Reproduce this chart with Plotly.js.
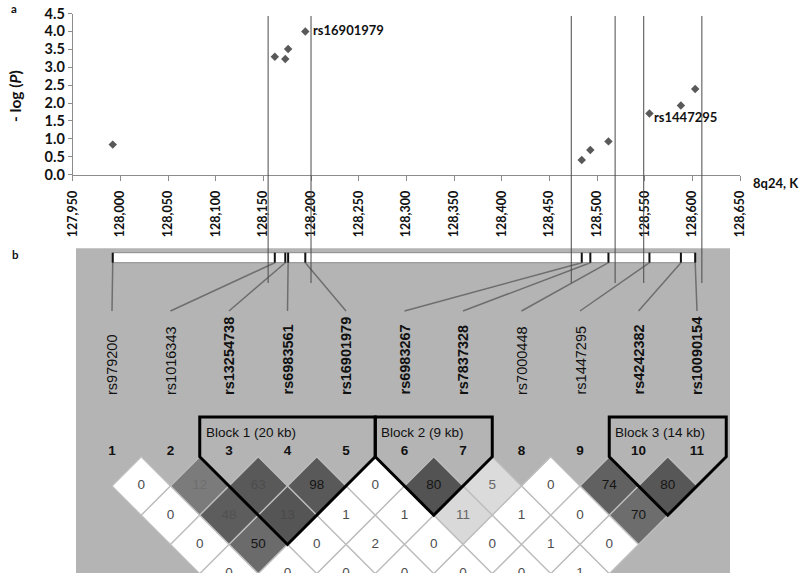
<!DOCTYPE html>
<html>
<head>
<meta charset="utf-8">
<script src="https://cdn.plot.ly/plotly-3.0.1.min.js"></script>
<style>
  body { margin: 0; background: #fff; }
  #chart { width: 800px; height: 580px; }
</style>
</head>
<body>
<div id="chart"></div>
<script>
/////
///// Data
/////

let snpNames = ['rs979200', 'rs1016343', 'rs13254738', 'rs6983561', 'rs16901979', 'rs6983267',
                'rs7837328', 'rs7000448', 'rs1447295', 'rs4242382', 'rs10090154'];
// position on 8q24, kb
let snpKb = [127992, 128162, 128173, 128176, 128194, 128484, 128493, 128512, 128555, 128588, 128603];
let snpLogP = [0.84, 3.29, 3.23, 3.51, 4.00, 0.41, 0.69, 0.93, 1.71, 1.93, 2.39];
let taggedSnps = ['rs13254738', 'rs6983561', 'rs16901979', 'rs6983267', 'rs7837328', 'rs4242382', 'rs10090154'];
let calloutSnps = ['rs16901979', 'rs1447295'];

// vertical marker lines, kb
let boundaryKb = [128155, 128200, 128473, 128519, 128549, 128610];

// LD values, row 1 = neighbouring SNPs, row 2 = one apart, ...
let ldValues = [
    [0, 12, 63, 98, 0, 80, 5, 0, 74, 80],
    [0, 48, 13, 1, 1, 11, 1, 0, 70],
    [0, 50, 0, 2, 0, 0, 1, 0],
    [0, 0, 0, 0, 0, 0, 1]
];
// shading strength of each LD cell (0 = white, 1 = darkest)
let ldShade = [
    [0, 0.66, 0.83, 0.83, 0, 0.86, 0.18, 0, 0.79, 0.84],
    [0, 0.81, 0.85, 0, 0, 0.19, 0, 0, 0.73],
    [0, 0.74, 0, 0, 0, 0, 0, 0],
    [0, 0, 0, 0, 0, 0, 0]
];

let blockFirst = [3, 6, 10];
let blockLast = [5, 7, 11];
let blockLabels = ['Block 1 (20 kb)', 'Block 2 (9 kb)', 'Block 3 (14 kb)'];

/////
///// Geometry helpers (pixel layout of the page)
/////

const W = 800, H = 580;
const xDom = [72.7, 740];          // top panel x extent, px
const yDom = [13.5, 174.7];        // top panel y extent, px
const kbRange = [127950, 128650];

const idx1Px = 112, idxStep = 58.5; // column 1 and spacing in panel b
const row0Px = 456.75, rowStep = 29.25;
const panelBottom = 573;

function row(px) { return (px - row0Px) / rowStep; }
function idxPx(i) { return idx1Px + (i - 1) * idxStep; }
function kbOfPx(px) { return kbRange[0] + (px - xDom[0]) / (xDom[1] - xDom[0]) * (kbRange[1] - kbRange[0]); }

// cells whose numbers nearly vanish into the shading
const faintCells = ['2-3', '3-4', '2-4', '3-5'];

function shadeColor(s) {
    let g = Math.round(255 - 200 * s);
    return `rgb(${g},${g},${g})`;
}

const bold = 'bold';
const lato = 'Lato, "Open Sans", sans-serif';
const arial = '"Liberation Sans", Arial, sans-serif';

/////
///// Panel a
/////

let traces = [];

traces.push({
    x: snpKb,
    y: snpLogP,
    mode: 'markers',
    type: 'scatter',
    marker: { symbol: 'diamond', size: 6.5, color: '#595959' },
    hoverinfo: 'none',
    xaxis: 'x',
    yaxis: 'y'
});

/////
///// Panel b
/////

let shapes = [];
let annotations = [];

// grey backdrop
shapes.push({
    type: 'rect', xref: 'paper', yref: 'paper', layer: 'below',
    x0: 76 / W, x1: 730 / W, y0: 1 - panelBottom / H, y1: 1 - 248.3 / H,
    fillcolor: '#b4b4b4', line: { width: 0 }
});

// chromosome bar with SNP ticks
let barTop = row(252.7), barBot = row(262.7);
shapes.push({
    type: 'rect', xref: 'x', yref: 'y2',
    x0: snpKb[0], x1: snpKb[snpKb.length - 1], y0: barTop, y1: barBot,
    fillcolor: '#ffffff', line: { color: '#8a8a8a', width: 1 }
});
snpKb.forEach(kb => {
    shapes.push({
        type: 'line', xref: 'x', yref: 'y2',
        x0: kb, x1: kb, y0: barTop, y1: barBot,
        line: { color: '#111', width: 2 }
    });
});

// lines from the bar to the evenly spaced SNP names
let connX = [], connY = [];
snpKb.forEach((kb, k) => {
    connX.push(kb, kbOfPx(idxPx(k + 1)), null);
    connY.push(barBot, row(311), null);
});
traces.push({
    x: connX, y: connY, mode: 'lines', type: 'scatter',
    line: { color: '#6e6e6e', width: 1.5 },
    hoverinfo: 'none', xaxis: 'x', yaxis: 'y2'
});

// vertical marker lines through both panels
boundaryKb.forEach(kb => {
    shapes.push({
        type: 'line', xref: 'x', yref: 'y2',
        x0: kb, x1: kb, y0: row(16), y1: row(283),
        line: { color: '#4a4a4a', width: 1 }
    });
});

// SNP names
snpNames.forEach((name, k) => {
    annotations.push({
        xref: 'x2', yref: 'y2', x: k + 1, y: row(397),
        text: name, showarrow: false, textangle: -90,
        xanchor: 'center', yanchor: 'bottom',
        font: { family: arial, size: 14.5, color: '#111',
                weight: taggedSnps.includes(name) ? bold : 'normal' }
    });
});

// LD cells (drawn under the text trace)
let cellX = [], cellY = [], cellText = [], cellTextColor = [];
ldValues.forEach((vals, r) => {
    let d = r + 1;
    vals.forEach((v, k) => {
        let i = k + 1, j = k + 1 + d;
        let cx = (i + j) / 2, cy = d;
        let s = ldShade[r][k];
        shapes.push({
            type: 'path', xref: 'x2', yref: 'y2', layer: 'below',
            path: `M ${cx},${cy - 1} L ${cx + 0.5},${cy} L ${cx},${cy + 1} L ${cx - 0.5},${cy} Z`,
            fillcolor: shadeColor(s), line: { color: '#bdbdbd', width: 1.3 }
        });
        cellX.push(cx);
        cellY.push(cy);
        cellText.push(String(v));
        let tc;
        if (faintCells.includes(`${i}-${j}`)) tc = shadeColor(s + 0.06);
        else if (s > 0.5) tc = '#151515';
        else if (s > 0) tc = '#666';
        else tc = '#4d4d4d';
        cellTextColor.push(tc);
    });
});
traces.push({
    x: cellX, y: cellY, text: cellText, mode: 'text', type: 'scatter',
    textposition: 'middle center',
    textfont: { family: arial, size: 13.5, color: cellTextColor },
    hoverinfo: 'none', xaxis: 'x2', yaxis: 'y2', cliponaxis: true
});

// haplotype block outlines and labels
let blockTop = row(417);
blockFirst.forEach((s, b) => {
    let e = blockLast[b];
    shapes.push({
        type: 'path', xref: 'x2', yref: 'y2',
        path: `M ${s - 0.5},${blockTop} L ${s - 0.5},0 L ${(s + e) / 2},${e - s + 1} ` +
              `L ${e + 0.5},0 L ${e + 0.5},${blockTop} Z`,
        fillcolor: 'rgba(0,0,0,0)', line: { color: '#000', width: 3 }
    });
    annotations.push({
        xref: 'x2', yref: 'y2', x: s - 0.5, y: row(432), xshift: 4,
        text: blockLabels[b], showarrow: false, xanchor: 'left', yanchor: 'middle',
        font: { family: arial, size: 13.5, color: '#111' }
    });
});

// column numbers
traces.push({
    x: snpNames.map((_, k) => k + 1),
    y: snpNames.map(() => row(452)),
    text: snpNames.map((_, k) => String(k + 1)),
    mode: 'text', type: 'scatter', textposition: 'middle center',
    textfont: { family: arial, size: 13.5, color: '#111', weight: bold },
    hoverinfo: 'none', xaxis: 'x2', yaxis: 'y2'
});

/////
///// Labels of panel a
/////

calloutSnps.forEach(name => {
    let k = snpNames.indexOf(name);
    annotations.push({
        xref: 'x', yref: 'y', x: snpKb[k], y: snpLogP[k],
        text: name, showarrow: false, xanchor: 'left', yanchor: 'middle',
        xshift: name === 'rs1447295' ? 3 : 6, yshift: name === 'rs1447295' ? -4 : 1,
        font: { family: lato, size: 13, color: '#111', weight: bold }
    });
});

annotations.push({
    xref: 'paper', yref: 'paper', x: 15 / W, y: 1 - 96 / H,
    text: '- log (<i>P</i>)', showarrow: false, textangle: -90,
    xanchor: 'center', yanchor: 'middle',
    font: { family: lato, size: 15.5, color: '#111', weight: bold }
});
annotations.push({
    xref: 'paper', yref: 'paper', x: 751 / W, y: 1 - 182.7 / H,
    text: '8q24, K', showarrow: false, xanchor: 'left', yanchor: 'middle',
    font: { family: lato, size: 13, color: '#111', weight: bold }
});
annotations.push({
    xref: 'paper', yref: 'paper', x: 9 / W, y: 1 - 9 / H,
    text: 'a', showarrow: false, xanchor: 'left', yanchor: 'middle',
    font: { family: lato, size: 11.5, color: '#111', weight: bold }
});
annotations.push({
    xref: 'paper', yref: 'paper', x: 9.5 / W, y: 1 - 254 / H,
    text: 'b', showarrow: false, xanchor: 'left', yanchor: 'middle',
    font: { family: lato, size: 11.5, color: '#111', weight: bold }
});

let layout = {
    width: W,
    height: H,
    margin: { l: 0, r: 0, t: 0, b: 0 },
    paper_bgcolor: '#ffffff',
    plot_bgcolor: 'rgba(0,0,0,0)',
    showlegend: false,
    xaxis: {
        domain: [xDom[0] / W, xDom[1] / W],
        range: kbRange,
        tickmode: 'linear', tick0: kbRange[0], dtick: 50,
        tickformat: ',d', tickangle: -90, ticklabelstandoff: 5,
        tickfont: { family: lato, size: 12.5, color: '#111', weight: bold },
        ticks: 'outside', ticklen: 5, tickcolor: '#8c8c8c',
        showline: true, linecolor: '#8c8c8c', linewidth: 1,
        showgrid: false, zeroline: false, anchor: 'y'
    },
    yaxis: {
        domain: [1 - yDom[1] / H, 1 - yDom[0] / H],
        range: [0, 4.5],
        tickmode: 'linear', tick0: 0, dtick: 0.5, tickformat: '.1f',
        tickfont: { family: lato, size: 14.5, color: '#111', weight: bold },
        ticks: 'outside', ticklen: 4, tickcolor: '#8c8c8c',
        showline: true, linecolor: '#8c8c8c', linewidth: 1,
        showgrid: false, zeroline: false, anchor: 'x'
    },
    xaxis2: {
        domain: [0, 1],
        range: [1 - idx1Px / idxStep, 1 + (W - idx1Px) / idxStep],
        visible: false, anchor: 'y2'
    },
    yaxis2: {
        domain: [1 - panelBottom / H, 1],
        range: [row(panelBottom), row(0)],
        visible: false, anchor: 'x2'
    },
    shapes: shapes,
    annotations: annotations
};

Plotly.newPlot('chart', traces, layout, { staticPlot: true, displayModeBar: false });
</script>
</body>
</html>
